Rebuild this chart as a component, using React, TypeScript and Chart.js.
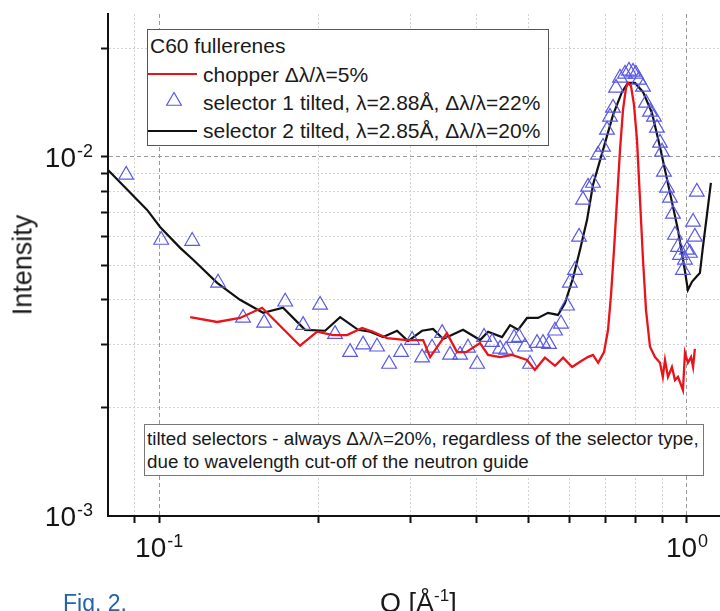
import React, { useEffect, useRef } from 'react';
import { Chart, registerables } from 'chart.js';

Chart.register(...registerables);

const FONT = '"Liberation Sans", Arial, Helvetica, sans-serif';
const RED = '#e8141a';
const BLUE = '#5a5ae6';
const BLACK = '#111111';

// chopper Δλ/λ=5%
const chopperQ = [0.1145, 0.1288, 0.1423, 0.1567, 0.1849, 0.1992, 0.2135, 0.227, 0.2424, 0.2542, 0.2702, 0.2946, 0.3164, 0.3261, 0.3508, 0.3667, 0.3816, 0.4055, 0.4199, 0.4424, 0.4663, 0.4977, 0.515, 0.5381, 0.5624, 0.5826, 0.606, 0.6272, 0.6489, 0.6637, 0.6788, 0.6964, 0.7087, 0.718, 0.7274, 0.737, 0.7467, 0.7565, 0.7665, 0.7731, 0.7833, 0.7937, 0.8041, 0.8148, 0.8255, 0.8363, 0.851, 0.8698, 0.889, 0.9, 0.9086, 0.9205, 0.9366, 0.949, 0.9616, 0.9826, 0.9913, 1.004, 1.018, 1.027, 1.035];
const chopperI = [0.00358, 0.00347, 0.00356, 0.0038, 0.00298, 0.00326, 0.00319, 0.00319, 0.00334, 0.00326, 0.00313, 0.00309, 0.00309, 0.00277, 0.00323, 0.00286, 0.00286, 0.00303, 0.00281, 0.00277, 0.00281, 0.00272, 0.00255, 0.00276, 0.00262, 0.00276, 0.0026, 0.00269, 0.00277, 0.00281, 0.00267, 0.00286, 0.0033, 0.00413, 0.00551, 0.00759, 0.01046, 0.01352, 0.01557, 0.01607, 0.01577, 0.01396, 0.01115, 0.00759, 0.00517, 0.00375, 0.00296, 0.00277, 0.00267, 0.00244, 0.00272, 0.00244, 0.0026, 0.00239, 0.00244, 0.00224, 0.00285, 0.00267, 0.00277, 0.0026, 0.00292];

// selector 1 tilted (triangles)
const sel1Q = [0.0866, 0.1009, 0.1155, 0.1293, 0.1442, 0.1581, 0.1733, 0.1874, 0.2018, 0.2154, 0.23, 0.2434, 0.2587, 0.2727, 0.2873, 0.3015, 0.3149, 0.3289, 0.3436, 0.3557, 0.3717, 0.3847, 0.4004, 0.4126, 0.4273, 0.4424, 0.4543, 0.4704, 0.4808, 0.4934, 0.5043, 0.5198, 0.5336, 0.5478, 0.5623, 0.5772, 0.5926, 0.6, 0.6137, 0.6245, 0.6353, 0.6494, 0.6637, 0.6783, 0.6934, 0.7055, 0.7149, 0.7243, 0.7338, 0.7467, 0.7632, 0.7765, 0.7902, 0.8, 0.8111, 0.8255, 0.8363, 0.851, 0.866, 0.8774, 0.889, 0.8967, 0.9045, 0.9165, 0.9286, 0.9408, 0.949, 0.9616, 0.97, 0.9826, 0.9913, 1.0, 1.013, 1.027, 1.035, 1.044];
const sel1I = [0.00891, 0.00587, 0.00583, 0.00446, 0.00356, 0.00345, 0.00395, 0.0034, 0.00387, 0.00321, 0.00286, 0.003, 0.00296, 0.00265, 0.00286, 0.00309, 0.00276, 0.00294, 0.00323, 0.00281, 0.00281, 0.00294, 0.00265, 0.00315, 0.00305, 0.00292, 0.0029, 0.00313, 0.00315, 0.00296, 0.00265, 0.00303, 0.00303, 0.00301, 0.00328, 0.00343, 0.00385, 0.00446, 0.00484, 0.00599, 0.00759, 0.00825, 0.00846, 0.01013, 0.01066, 0.01189, 0.01292, 0.01369, 0.01557, 0.0166, 0.01703, 0.01736, 0.01725, 0.01703, 0.01639, 0.01567, 0.01414, 0.01335, 0.01292, 0.01204, 0.01094, 0.01033, 0.00908, 0.0082, 0.00769, 0.00694, 0.00606, 0.00561, 0.00533, 0.00484, 0.00517, 0.00551, 0.0054, 0.00659, 0.00599, 0.00799];

// selector 2 tilted (black line)
const sel2Q = [0.08, 0.0949, 0.1004, 0.1096, 0.116, 0.1288, 0.1423, 0.1574, 0.1717, 0.189, 0.2063, 0.2202, 0.2382, 0.251, 0.2656, 0.2823, 0.2962, 0.3148, 0.3304, 0.3451, 0.3765, 0.4055, 0.4199, 0.4463, 0.4622, 0.4786, 0.4977, 0.5221, 0.5454, 0.5697, 0.5875, 0.6083, 0.6272, 0.6467, 0.6637, 0.6934, 0.7243, 0.7532, 0.7731, 0.797, 0.8253, 0.8584, 0.889, 0.9286, 0.9616, 0.987, 1.004, 1.022, 1.045, 1.058, 1.072, 1.091, 1.11];
const sel2I = [0.0092, 0.00712, 0.00638, 0.00558, 0.00517, 0.00446, 0.004, 0.00368, 0.0038, 0.0033, 0.00328, 0.00358, 0.0033, 0.00326, 0.00315, 0.00328, 0.00307, 0.00328, 0.00332, 0.00311, 0.0033, 0.00309, 0.00326, 0.00315, 0.0034, 0.0033, 0.00356, 0.00356, 0.00368, 0.00363, 0.00392, 0.0046, 0.00551, 0.00668, 0.00836, 0.01046, 0.01309, 0.01517, 0.01607, 0.01607, 0.01517, 0.01326, 0.01066, 0.00794, 0.00626, 0.005, 0.00426, 0.00449, 0.00466, 0.00475, 0.00561, 0.00689, 0.00846];

// axes
const X_MIN = 0.08;
const X_MAX = 1.155;
const Y_MIN = 0.001;
const Y_MAX = 0.025;
const X_GRID_TICKS = [0.09, 0.1, 0.2, 0.3, 0.4, 0.5, 0.6, 0.7, 0.8, 0.9, 1];
const Y_GRID_TICKS = [0.002, 0.003, 0.004, 0.005, 0.006, 0.007, 0.008, 0.009, 0.01, 0.02];
const X_LABEL_VALUES = [0.1, 1];
const X_LABEL_EXPONENTS = ['-1', '0'];
const Y_LABEL_VALUES = [0.001, 0.01];
const Y_LABEL_EXPONENTS = ['-3', '-2'];

const LEGEND_TITLE = 'C60 fullerenes';
const LABEL_CHOPPER = 'chopper Δλ/λ=5%';
const LABEL_SEL1 = 'selector 1 tilted, λ=2.88Å, Δλ/λ=22%';
const LABEL_SEL2 = 'selector 2 tilted, λ=2.85Å, Δλ/λ=20%';
const NOTE_LINE1 = 'tilted selectors - always Δλ/λ=20%, regardless of the selector type,';
const NOTE_LINE2 = 'due to wavelength cut-off of the neutron guide';

const isMajor = (v?: number) =>
  v !== undefined && Math.abs(Math.log10(v) - Math.round(Math.log10(v))) < 1e-6;

const powerLabels = {
  id: 'powerLabels',
  afterDraw(chart: any) {
    const { ctx, chartArea, scales } = chart;
    const x = scales.x;
    const y = scales.y;
    ctx.save();
    ctx.fillStyle = '#151515';
    ctx.textAlign = 'left';
    ctx.textBaseline = 'alphabetic';
    const draw = (exp: string, anchorX: number, baseline: number, align: 'center' | 'right') => {
      ctx.font = `28px ${FONT}`;
      const w1 = ctx.measureText('10').width;
      ctx.font = `18px ${FONT}`;
      const w2 = ctx.measureText(exp).width;
      const total = w1 + 1 + w2;
      const left = align === 'center' ? anchorX - total / 2 : anchorX - total;
      ctx.font = `28px ${FONT}`;
      ctx.fillText('10', left, baseline);
      ctx.font = `18px ${FONT}`;
      ctx.fillText(exp, left + w1 + 1, baseline - 10);
    };
    X_LABEL_VALUES.forEach((v, i) =>
      draw(X_LABEL_EXPONENTS[i], x.getPixelForValue(v), chartArea.bottom + 41, 'center')
    );
    Y_LABEL_VALUES.forEach((v, i) =>
      draw(Y_LABEL_EXPONENTS[i], chartArea.left - 15, y.getPixelForValue(v) + 10, 'right')
    );
    ctx.restore();
  },
};

const gridOpts = {
  color: (c: any) => (isMajor(c.tick?.value) ? '#9a9a9a' : '#d2d2d2'),
  lineWidth: 1,
  drawTicks: true,
  tickLength: 7,
  tickColor: BLACK,
  tickWidth: 2,
};
const borderOpts = {
  display: true,
  color: BLACK,
  width: 2,
  dash: (c: any) => (isMajor(c.tick?.value) ? [4, 3] : [2, 2]),
};

export default function App() {
  const canvasRef = useRef<HTMLCanvasElement | null>(null);

  useEffect(() => {
    if (!canvasRef.current) return;
    const chart = new Chart(canvasRef.current, {
      type: 'line',
      data: {
        datasets: [
          {
            label: LABEL_CHOPPER,
            data: chopperQ.map((q, i) => ({ x: q, y: chopperI[i] })),
            borderColor: RED,
            backgroundColor: RED,
            borderWidth: 2.3,
            pointRadius: 0,
            fill: false,
            tension: 0,
          },
          {
            label: LABEL_SEL1,
            data: sel1Q.map((q, i) => ({ x: q, y: sel1I[i] })),
            showLine: false,
            pointStyle: 'triangle',
            pointRadius: 8.5,
            pointBorderColor: BLUE,
            pointBackgroundColor: 'rgba(0,0,0,0)',
            pointBorderWidth: 1.2,
            borderColor: BLUE,
            backgroundColor: 'rgba(0,0,0,0)',
          },
          {
            label: LABEL_SEL2,
            data: sel2Q.map((q, i) => ({ x: q, y: sel2I[i] })),
            borderColor: BLACK,
            backgroundColor: BLACK,
            borderWidth: 2.2,
            pointRadius: 0,
            fill: false,
            tension: 0,
          },
        ],
      } as any,
      options: {
        responsive: false,
        animation: false,
        events: [],
        layout: { autoPadding: false, padding: { top: 14, left: 0, right: 0, bottom: 0 } },
        plugins: {
          legend: { display: false },
          tooltip: { enabled: false },
          title: { display: false },
        },
        scales: {
          x: {
            type: 'logarithmic',
            position: 'bottom',
            min: X_MIN,
            max: X_MAX,
            afterBuildTicks: (s: any) => {
              s.ticks = X_GRID_TICKS.map((v) => ({ value: v }));
            },
            afterFit: (s: any) => {
              s.height = 95;
            },
            ticks: { display: false },
            grid: gridOpts,
            border: borderOpts,
          },
          y: {
            type: 'logarithmic',
            position: 'left',
            min: Y_MIN,
            max: Y_MAX,
            afterBuildTicks: (s: any) => {
              s.ticks = Y_GRID_TICKS.map((v) => ({ value: v }));
            },
            afterFit: (s: any) => {
              s.width = 108;
            },
            ticks: { display: false },
            grid: gridOpts,
            border: borderOpts,
          },
        },
      } as any,
      plugins: [powerLabels],
    });
    return () => chart.destroy();
  }, []);

  const text: React.CSSProperties = {
    position: 'absolute',
    whiteSpace: 'nowrap',
    fontFamily: FONT,
    color: '#1a1a1a',
  };

  return (
    <div style={{ position: 'absolute', left: 0, top: 0, width: 720, height: 611, background: '#fff', overflow: 'hidden' }}>
      <canvas ref={canvasRef} width={720} height={611} style={{ display: 'block', position: 'absolute', left: 0, top: 0 }} />

      {/* legend */}
      <div
        style={{
          position: 'absolute',
          left: 147,
          top: 29,
          width: 402,
          height: 117,
          boxSizing: 'border-box',
          border: '1px solid #555',
          background: '#fff',
        }}
      >
        <div style={{ ...text, left: 2, top: 5, fontSize: 21, lineHeight: '21px' }}>{LEGEND_TITLE}</div>
        <div style={{ position: 'absolute', left: 0, top: 43, width: 49, height: 2, background: RED }} />
        <div style={{ ...text, left: 55, top: 33.7, fontSize: 21, lineHeight: '21px' }}>{LABEL_CHOPPER}</div>
        <svg style={{ position: 'absolute', left: 16, top: 61 }} width={20} height={20}>
          <polygon points="10,1.5 2.64,14.25 17.36,14.25" fill="none" stroke={BLUE} strokeWidth={1.2} />
        </svg>
        <div style={{ ...text, left: 55, top: 62.2, fontSize: 21, lineHeight: '21px' }}>{LABEL_SEL1}</div>
        <div style={{ position: 'absolute', left: 0, top: 99.7, width: 49, height: 2, background: BLACK }} />
        <div style={{ ...text, left: 55, top: 90.2, fontSize: 21, lineHeight: '21px' }}>{LABEL_SEL2}</div>
      </div>

      {/* note box */}
      <div
        style={{
          position: 'absolute',
          left: 144,
          top: 424,
          width: 560,
          height: 52,
          boxSizing: 'border-box',
          border: '1px solid #777',
          background: '#fff',
        }}
      >
        <div style={{ ...text, left: 2, top: 5.1, fontSize: 18.8, lineHeight: '18.8px' }}>{NOTE_LINE1}</div>
        <div style={{ ...text, left: 2, top: 28.4, fontSize: 18.8, lineHeight: '18.8px' }}>{NOTE_LINE2}</div>
      </div>

      {/* y axis title */}
      <div
        style={{
          ...text,
          left: 23,
          top: 265,
          fontSize: 27,
          lineHeight: '27px',
          transform: 'translate(-50%, -50%) rotate(-90deg)',
        }}
      >
        Intensity
      </div>

      {/* x axis title */}
      <div style={{ ...text, left: 380, top: 590, fontSize: 27, lineHeight: '27px' }}>
        Q [Å<span style={{ fontSize: 17, position: 'relative', top: -11 }}>-1</span>]
      </div>

      {/* caption */}
      <div style={{ ...text, left: 63, top: 591.5, fontSize: 23, lineHeight: '23px', color: '#2563b0' }}>Fig. 2.</div>
    </div>
  );
}
